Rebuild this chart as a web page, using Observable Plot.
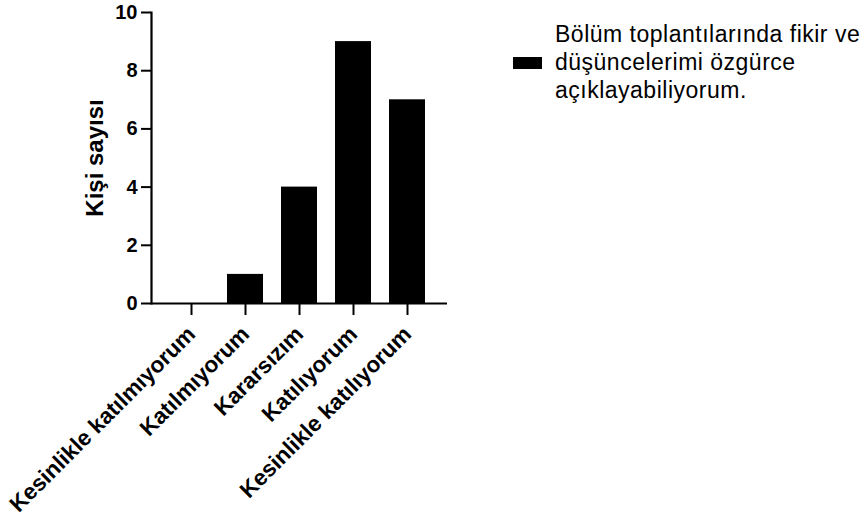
<!DOCTYPE html>
<html>
<head>
<meta charset="utf-8">
<script src="https://cdn.jsdelivr.net/npm/d3@7"></script>
<script src="https://cdn.jsdelivr.net/npm/@observablehq/plot@0.6"></script>
<style>
  html, body { margin: 0; padding: 0; background: #fff; }
  #wrap { position: relative; width: 866px; height: 517px; font-family: "Liberation Sans", Arial, sans-serif; }
  #legend .sw { position: absolute; left: 513px; top: 57px; width: 29px; height: 12px; background: #000; }
  #legend .lbl { position: absolute; left: 555px; top: 20px; width: 310px; font-size: 23px; line-height: 28px; letter-spacing: 0.5px; color: #000; }
</style>
</head>
<body>
<div id="wrap">
  <div id="chart"></div>
  <div id="legend"><div class="sw"></div><div class="lbl" id="legendText"></div></div>
</div>
<script>
// Answer categories and number of respondents per category
const categories = ["Kesinlikle katılmıyorum", "Katılmıyorum", "Kararsızım", "Katılıyorum", "Kesinlikle katılıyorum"];
const counts = [0, 1, 4, 9, 7];
const yTicks = [0, 2, 4, 6, 8, 10];
const yLabel = "Kişi sayısı";
const seriesName = "Bölüm toplantılarında fikir ve düşüncelerimi özgürce açıklayabiliyorum.";

const data = categories.map((c, i) => ({category: c, count: counts[i]}));

const chart = Plot.plot({
  width: 866,
  height: 517,
  marginLeft: 151,
  marginRight: 419,
  marginTop: 12,
  marginBottom: 214,
  style: {fontFamily: "'Liberation Sans', Arial, sans-serif", color: "#000", background: "#fff"},
  x: {type: "band", domain: categories, paddingInner: 0.34, paddingOuter: 0.38, label: null},
  y: {domain: [0, 10], label: null},
  marks: [
    Plot.barY(data, {x: "category", y: "count", fill: "#000"}),
    Plot.axisY({ticks: yTicks, tickSize: 10, tickPadding: 4, strokeWidth: 2, fontSize: 20, fontWeight: "bold", label: null}),
    Plot.axisX({tickSize: 12, tickPadding: 15, strokeWidth: 2, tickRotate: -45, fontSize: 22.5, fontWeight: "bold", label: null}),
    Plot.ruleY([0], {strokeWidth: 2.2}),
    Plot.frame({anchor: "left", strokeWidth: 2.2}),
    Plot.text([yLabel], {text: d => d, frameAnchor: "left", textAnchor: "middle", rotate: -90, dx: -56, fontSize: 24, fontWeight: "bold"})
  ]
});

document.getElementById("chart").appendChild(chart);
document.getElementById("legendText").textContent = seriesName;
</script>
</body>
</html>
